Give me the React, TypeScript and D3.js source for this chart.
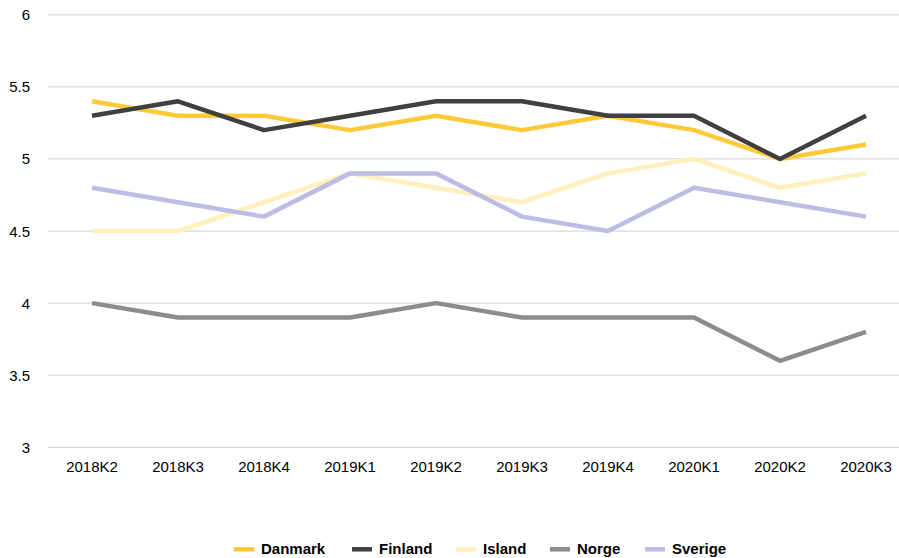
import React from "react";
import * as d3 from "d3";

const categories = ["2018K2","2018K3","2018K4","2019K1","2019K2","2019K3","2019K4","2020K1","2020K2","2020K3"];
const danmark = [5.4, 5.3, 5.3, 5.2, 5.3, 5.2, 5.3, 5.2, 5.0, 5.1];
const finland = [5.3, 5.4, 5.2, 5.3, 5.4, 5.4, 5.3, 5.3, 5.0, 5.3];
const island = [4.5, 4.5, 4.7, 4.9, 4.8, 4.7, 4.9, 5.0, 4.8, 4.9];
const norge = [4.0, 3.9, 3.9, 3.9, 4.0, 3.9, 3.9, 3.9, 3.6, 3.8];
const sverige = [4.8, 4.7, 4.6, 4.9, 4.9, 4.6, 4.5, 4.8, 4.7, 4.6];
const yTicks = [3, 3.5, 4, 4.5, 5, 5.5, 6];

const seriesNames = ["Danmark", "Finland", "Island", "Norge", "Sverige"];
const seriesValues = [danmark, finland, island, norge, sverige];
const seriesColors = ["#FFCA3A", "#404040", "#FFF0BE", "#8C8C8C", "#BCBCE4"];
const legendX = [234, 352, 456, 550, 645];

export default function App() {
  const W = 899, H = 558;
  const x = d3.scalePoint<string>().domain(categories).range([49, 909]).padding(0.5);
  const y = d3.scaleLinear().domain([3, 6]).range([447.3, 14.8]);
  const line = d3.line<number>().x((_, i) => x(categories[i]) as number).y((v) => y(v));
  const font = "Arial, 'Liberation Sans', sans-serif";

  return (
    <svg width={W} height={H} style={{ position: "fixed", left: 0, top: 0, background: "#fff" }} fontFamily={font}>
      {yTicks.map((t) => (
        <g key={t}>
          <line x1={48} x2={899} y1={y(t)} y2={y(t)} stroke="#d9d9d9" strokeWidth={1.2} />
          <text x={30} y={y(t) + 5.5} textAnchor="end" fontSize={15} fill="#000">{String(t)}</text>
        </g>
      ))}
      {categories.map((c) => (
        <text key={c} x={x(c)} y={471.5} textAnchor="middle" fontSize={15} fill="#000">{c}</text>
      ))}
      {seriesValues.map((vals, i) => (
        <path key={seriesNames[i]} d={line(vals) || ""} fill="none" stroke={seriesColors[i]} strokeWidth={4.5} strokeLinejoin="round" />
      ))}
      {seriesNames.map((n, i) => (
        <g key={n}>
          <line x1={legendX[i]} x2={legendX[i] + 20} y1={549.3} y2={549.3} stroke={seriesColors[i]} strokeWidth={4.5} />
          <text x={legendX[i] + 27} y={554.3} fontSize={15} fontWeight="bold" fill="#000">{n}</text>
        </g>
      ))}
    </svg>
  );
}
